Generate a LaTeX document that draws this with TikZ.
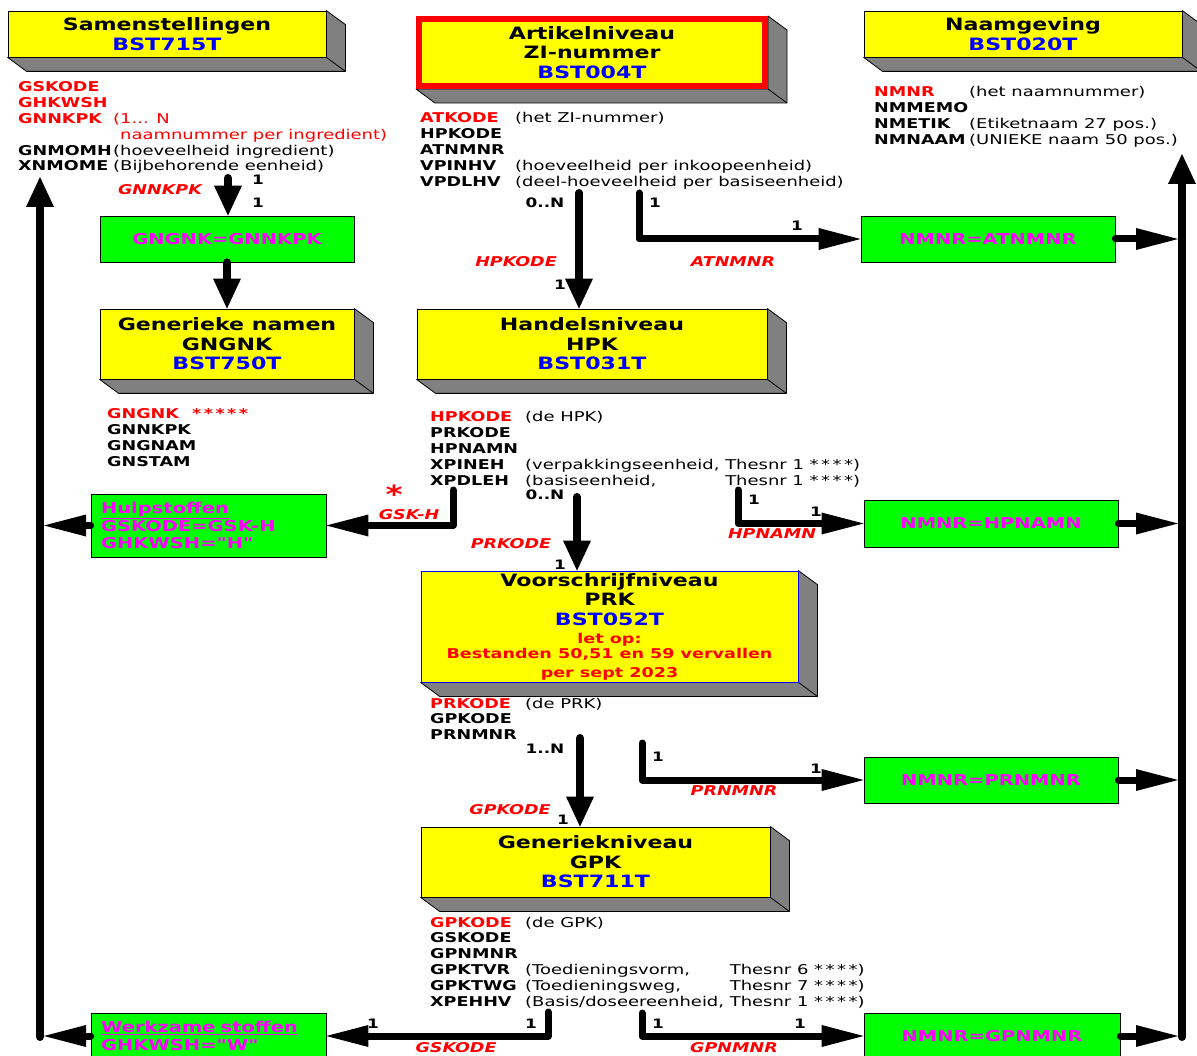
\documentclass[tikz,border=0pt]{standalone}
\usepackage{fontspec}
\setmainfont{DejaVu Sans}[UprightFeatures={FakeStretch=1.33}, BoldFeatures={FakeStretch=1.3}, BoldItalicFeatures={FakeStretch=1.3}]
\usetikzlibrary{arrows.meta,calc,positioning,backgrounds}

\definecolor{geel}{RGB}{255,255,0}
\definecolor{groen}{RGB}{0,255,0}
\definecolor{paars}{RGB}{255,0,255}
\definecolor{rood}{RGB}{255,0,0}
\definecolor{blauw}{RGB}{0,0,255}
\definecolor{grijs}{RGB}{128,128,128}

\newcommand{\titelfont}{\bfseries\fontsize{17}{19.5}\selectfont}
\newcommand{\veldfont}{\fontsize{13.5}{15.8}\selectfont}
\newcommand{\sleutelfont}{\bfseries\fontsize{15}{17.5}\selectfont}
\newcommand{\getalfont}{\bfseries\fontsize{13}{15}\selectfont}
\newcommand{\rolfont}{\bfseries\itshape\fontsize{13.5}{15}\selectfont}
\newcommand{\notafont}{\color{rood}\bfseries\fontsize{13.5}{15}\selectfont}
\newcommand{\pkveld}[1]{\textcolor{rood}{\textbf{#1}}}
\newcommand{\aanh}{{\addfontfeatures{Ligatures=TeXOff}\char"0022\relax}}
\newcommand{\vier}{*\kern2.5pt*\kern2.5pt*\kern2.5pt*}

% grijze zijkant van een tabel-blok
\newcommand{\diepte}[1]{%
  \begin{scope}[on background layer]
    \filldraw[fill=grijs, draw=black, line width=0.8pt, line join=round]
      (#1.north east) -- ++(19,14) -- ($(#1.south east)+(19,14)$)
      -- ($(#1.south west)+(19,14)$) -- (#1.south west) -- (#1.south east) -- cycle;
    \draw[line width=0.8pt] (#1.south east) -- ++(19,14);
  \end{scope}}

\tikzset{
  tabel/.style={draw=black, line width=0.8pt, fill=geel, inner sep=0pt, align=center, font=\titelfont},
  sleutel/.style={draw=black, line width=0.8pt, fill=groen, inner sep=0pt, align=center, text=paars, font=\sleutelfont},
  velden/.style={anchor=base west, inner sep=0pt, font=\veldfont},
  kard/.style={inner sep=0pt, font=\getalfont},
  rolnaam/.style={inner sep=0pt, text=rood, font=\rolfont},
  pijl/.style={line width=7pt, line cap=round, line join=round, -{Triangle[length=42pt, width=22pt, line width=0pt]}},
  vpijl/.style={line width=8pt, line cap=round, -{Triangle[length=30pt, width=28pt, line width=0pt]}},
}

\begin{document}
\begin{tikzpicture}[x=1pt, y=-1pt]
  \begin{scope}[on background layer]
    \fill[white] (0,0) rectangle (1197,1056);
  \end{scope}
  \useasboundingbox (0,0) rectangle (1197,1056);

  % 1. TABELLEN
  \node[tabel, minimum width=318pt, minimum height=46pt] (samen) at (167,34) {Samenstellingen\\\textcolor{blauw}{BST715T}};
  \node[tabel, draw=rood, line width=6pt, minimum width=346pt, minimum height=67pt] (art) at (592,52.5) {Artikelniveau\\ZI-nummer\\\textcolor{blauw}{BST004T}};
  \node[tabel, minimum width=318pt, minimum height=46pt] (naam) at (1023,34) {Naamgeving\\\textcolor{blauw}{BST020T}};
  \node[tabel, minimum width=254pt, minimum height=70pt] (gen) at (227,344) {Generieke namen\\GNGNK\\\textcolor{blauw}{BST750T}};
  \node[tabel, minimum width=350pt, minimum height=70pt] (hpk) at (592,344) {Handelsniveau\\HPK\\\textcolor{blauw}{BST031T}};
  \node[tabel, draw=blauw, minimum width=377pt, minimum height=111pt] (prk) at (609.5,626.5)
    {Voorschrijfniveau\\PRK\\\textcolor{blauw}{BST052T}\\[-1.5pt]\notafont let op:\\[-4.5pt]\notafont Bestanden 50,51 en 59 vervallen\\[-0.5pt]\notafont per sept 2023};
  \node[tabel, minimum width=349pt, minimum height=70pt] (gpk) at (595.5,862) {Generiekniveau\\GPK\\\textcolor{blauw}{BST711T}};
  \foreach \t in {samen,art,naam,gen,hpk,prk,gpk} {\diepte{\t}}

  % 2. VELDEN
  \node[velden] (v_samen) at (18,92) {\begin{tabular}[t]{@{}p{95pt}@{}l@{}}
    \pkveld{GSKODE} & \\
    \pkveld{GHKWSH} & \\
    \pkveld{GNNKPK} & \textcolor{rood}{(1... N}\\
     & \hspace{7pt}\textcolor{rood}{naamnummer per ingredient)}\\
    \textbf{GNMOMH} & (hoeveelheid ingredient)\\
    \textbf{XNMOME} & (Bijbehorende eenheid)
  \end{tabular}};
  \node[velden] (v_art) at (420,123) {\begin{tabular}[t]{@{}p{95pt}@{}l@{}}
    \pkveld{ATKODE} & (het ZI-nummer)\\
    \textbf{HPKODE} & \\
    \textbf{ATNMNR} & \\
    \textbf{VPINHV} & (hoeveelheid per inkoopeenheid)\\
    \textbf{VPDLHV} & (deel-hoeveelheid per basiseenheid)
  \end{tabular}};
  \node[velden] (v_naam) at (874,97) {\begin{tabular}[t]{@{}p{95pt}@{}l@{}}
    \pkveld{NMNR} & (het naamnummer)\\
    \textbf{NMMEMO} & \\
    \textbf{NMETIK} & (Etiketnaam 27 pos.)\\
    \textbf{NMNAAM} & (UNIEKE naam 50 pos.)
  \end{tabular}};
  \node[velden] (v_gen) at (107,419) {\begin{tabular}[t]{@{}p{85pt}@{}l@{}}
    \pkveld{GNGNK} & \pkveld{\vier\kern2.5pt*}\\
    \textbf{GNNKPK} & \\
    \textbf{GNGNAM} & \\
    \textbf{GNSTAM} &
  \end{tabular}};
  \node[velden] (v_hpk) at (430,422) {\begin{tabular}[t]{@{}p{95pt}@{}l@{}}
    \pkveld{HPKODE} & (de HPK)\\
    \textbf{PRKODE} & \\
    \textbf{HPNAMN} & \\
    \textbf{XPINEH} & (verpakkingseenheid, Thesnr 1 \vier)\\
    \textbf{XPDLEH} & \rlap{(basiseenheid,}\phantom{(verpakkingseenheid, }Thesnr 1 \vier)
  \end{tabular}};
  \node[velden] (v_prk) at (430,708) {\begin{tabular}[t]{@{}p{95pt}@{}l@{}}
    \pkveld{PRKODE} & (de PRK)\\
    \textbf{GPKODE} & \\
    \textbf{PRNMNR} &
  \end{tabular}};
  \node[velden] (v_gpk) at (430,927) {\begin{tabular}[t]{@{}p{95pt}@{}l@{}}
    \pkveld{GPKODE} & (de GPK)\\
    \textbf{GSKODE} & \\
    \textbf{GPNMNR} & \\
    \textbf{GPKTVR} & \rlap{(Toedieningsvorm,}\phantom{(Basis/doseereenheid, }Thesnr 6 \vier)\\
    \textbf{GPKTWG} & \rlap{(Toedieningsweg,}\phantom{(Basis/doseereenheid, }Thesnr 7 \vier)\\
    \textbf{XPEHHV} & (Basis/doseereenheid, Thesnr 1 \vier)
  \end{tabular}};

  % 3. KOPPELINGEN (groen)
  \node[sleutel, minimum width=254pt, minimum height=46pt] (k_gg) at (227,239) {GNGNK=GNNKPK};
  \node[sleutel, minimum width=254pt, minimum height=46pt] (k_at) at (988,239) {NMNR=ATNMNR};
  \node[sleutel, align=left, text width=215pt, inner xsep=10pt, minimum height=63pt] (hulp) at (208.5,525.5)
    {\underline{Hulpstoffen}\\GSKODE=GSK-H\\GHKWSH=\aanh H\aanh};
  \node[sleutel, minimum width=254pt, minimum height=47pt] (k_hp) at (991,523.5) {NMNR=HPNAMN};
  \node[sleutel, minimum width=254pt, minimum height=46pt] (k_pr) at (991,780) {NMNR=PRNMNR};
  \node[sleutel, align=left, text width=215pt, inner xsep=10pt, minimum height=46pt] (werk) at (208.5,1036)
    {\underline{Werkzame stoffen}\\GHKWSH=\aanh W\aanh};
  \node[sleutel, minimum width=256pt, minimum height=46pt] (k_gp) at (992,1036) {NMNR=GPNMNR};

  % 4. PIJLEN
  \coordinate (s_samen) at (228,178);
  \coordinate (s_art1) at (579,193);
  \coordinate (s_art2) at (639,193);
  \coordinate (s_hpk1) at (453,490);
  \coordinate (s_hpk2) at (577,497);
  \coordinate (s_hpk3) at (738,490);
  \coordinate (s_prk1) at (580,738);
  \coordinate (s_prk2) at (642,743);
  \coordinate (s_gpk1) at (548,1012);
  \coordinate (s_gpk2) at (642,1013);
  \coordinate (links) at (40,1037);
  \coordinate (linkstop) at (40,177);
  \coordinate (rechts) at (1182,1037);
  \coordinate (rechtstop) at (1182,154);

  \draw[vpijl] (links) -- (linkstop);
  \draw[vpijl] (rechts) -- (rechtstop);
  \draw[vpijl] (s_samen) -- (s_samen |- k_gg.north);
  \draw[vpijl] (k_gg) -- (gen);
  \draw[vpijl] (s_art1) -- (s_art1 |- hpk.north);
  \draw[pijl] (s_art2) |- (k_at.west);
  \draw[pijl, shorten >=4pt] (k_at.east) -- (k_at.east -| rechts);
  \draw[pijl] (s_hpk1) |- (hulp.east);
  \draw[pijl, shorten >=4pt] (hulp.west) -- (hulp.west -| links);
  \draw[vpijl] (s_hpk2) -- (s_hpk2 |- prk.north);
  \draw[pijl] (s_hpk3) |- (k_hp.west);
  \draw[pijl, shorten >=4pt] (k_hp.east) -- (k_hp.east -| rechts);
  \draw[vpijl] (s_prk1) -- (s_prk1 |- gpk.north);
  \draw[pijl] (s_prk2) |- (k_pr.west);
  \draw[pijl, shorten >=4pt] (k_pr.east) -- (k_pr.east -| rechts);
  \draw[pijl] (s_gpk1) |- (werk.east);
  \draw[pijl, shorten >=4pt] (werk.west) -- (werk.west -| links);
  \draw[pijl] (s_gpk2) |- (k_gp.west);
  \draw[pijl, shorten >=4pt] (k_gp.east) -- (k_gp.east -| rechts);

  % 5. LABELS
  \node[rolnaam] (r_gnnkpk) at (160,190) {GNNKPK};
  \node[kard] (c1) at (258,180) {1};
  \node[kard] (c2) at (258,203) {1};
  \node[kard] (c3) at (545,203) {0..N};
  \node[kard] (c4) at (655,203) {1};
  \node[kard] (c5) at (797,226) {1};
  \node[rolnaam] (r_hpkode) at (516,262) {HPKODE};
  \node[rolnaam] (r_atnmnr) at (733,262) {ATNMNR};
  \node[kard] (c6) at (560,285) {1};
  \node[text=rood, inner sep=0pt, font=\bfseries\fontsize{25}{25}\selectfont] (ster) at (394,494) {*};
  \node[rolnaam] (r_gskh) at (409,515) {GSK-H};
  \node[kard] (c7) at (545,495) {0..N};
  \node[rolnaam] (r_prkode) at (511,544) {PRKODE};
  \node[kard] (c8) at (560,565) {1};
  \node[kard] (c9) at (754,500) {1};
  \node[kard] (c10) at (816,512) {1};
  \node[rolnaam] (r_hpnamn) at (772,534) {HPNAMN};
  \node[kard] (c11) at (545,749) {1..N};
  \node[rolnaam] (r_gpkode) at (510,810) {GPKODE};
  \node[kard] (c12) at (563,820) {1};
  \node[kard] (c13) at (658,757) {1};
  \node[kard] (c14) at (816,769) {1};
  \node[rolnaam] (r_prnmnr) at (734,791) {PRNMNR};
  \node[kard] (c15) at (373,1024) {1};
  \node[kard] (c16) at (531,1024) {1};
  \node[rolnaam] (r_gskode) at (456,1048) {GSKODE};
  \node[kard] (c17) at (658,1024) {1};
  \node[kard] (c18) at (800,1024) {1};
  \node[rolnaam] (r_gpnmnr) at (734,1048) {GPNMNR};
\end{tikzpicture}
\end{document}
